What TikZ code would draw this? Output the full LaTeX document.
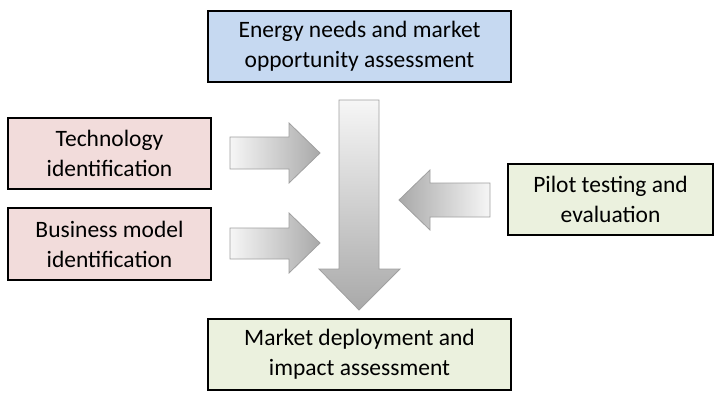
\documentclass[tikz,border=0pt]{standalone}
\usepackage{fontspec}
\setmainfont{Carlito}
\definecolor{boxblue}{HTML}{C6D9F1}
\definecolor{boxpink}{HTML}{F2DCDB}
\definecolor{boxgreen}{HTML}{EBF1DE}
\definecolor{arrlight}{HTML}{F6F6F6}
\definecolor{arrdark}{HTML}{A9A9A9}
\definecolor{arredge}{HTML}{A0A0A0}
\begin{document}
\begin{tikzpicture}[x=1pt,y=-1pt,
  box/.style={draw=black,line width=1.8pt,align=center,inner sep=0pt,
    font=\fontsize{23.5}{30}\selectfont},
  blockarrow/.style={draw=arredge,line width=0.8pt,line join=miter}]
\useasboundingbox (0,0) rectangle (719,400);
% boxes
\node[box,fill=boxblue,minimum width=303,minimum height=71] (top) at (359.5,46.5) {Energy needs and market\\opportunity assessment};
\node[box,fill=boxpink,minimum width=203,minimum height=71] (tech) at (109.5,153.5) {Technology\\identification};
\node[box,fill=boxpink,minimum width=203,minimum height=72] (bus) at (109.5,244) {Business model\\identification};
\node[box,fill=boxgreen,minimum width=205,minimum height=71] (pilot) at (610.5,199.5) {Pilot testing and\\evaluation};
\node[box,fill=boxgreen,minimum width=303,minimum height=71] (bottom) at (359.5,354.5) {Market deployment and\\impact assessment};
% vertical block arrow
\draw[blockarrow,top color=arrlight,bottom color=arrdark]
  (339,100) -- (379,100) -- (379,269) -- (400,269) -- (359,310) -- (319,269) -- (339,269) -- cycle;
% technology arrow
\draw[blockarrow,left color=arrlight,right color=arrdark]
  (230,137) -- (289,137) -- (289,123) -- (320,153) -- (289,183) -- (289,169) -- (230,169) -- cycle;
% business arrow
\draw[blockarrow,left color=arrlight,right color=arrdark]
  (230,228) -- (289,228) -- (289,213) -- (320,243) -- (289,273) -- (289,259) -- (230,259) -- cycle;
% pilot arrow
\draw[blockarrow,left color=arrdark,right color=arrlight]
  (490,183) -- (430,183) -- (430,170) -- (399,200) -- (430,230) -- (430,217) -- (490,217) -- cycle;
\end{tikzpicture}
\end{document}
